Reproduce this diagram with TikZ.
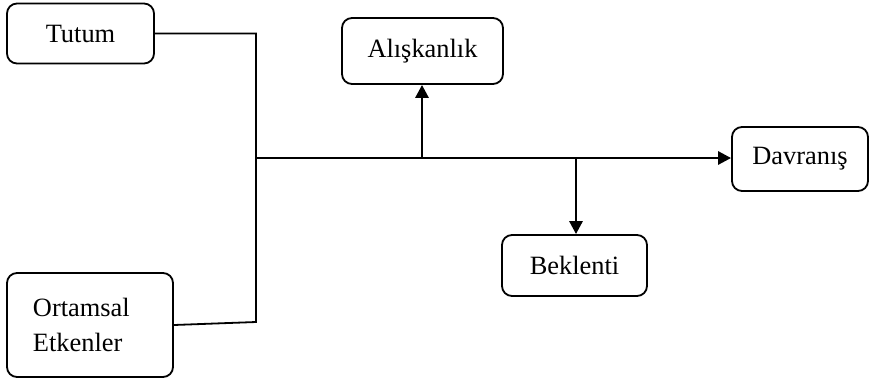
\documentclass[tikz,border=0pt]{standalone}
\usepackage{fontspec}
\setmainfont{Liberation Serif}
\usetikzlibrary{arrows.meta}
\begin{document}
\begin{tikzpicture}[x=1bp,y=-1bp,
  box/.style={draw, line width=1.8bp, rounded corners=10bp, inner sep=0pt,
    font=\fontsize{26.5}{35}\selectfont},
  link/.style={line width=1.8bp},
  flow/.style={line width=2.8bp, -{Triangle[length=13bp,width=13bp]}}]
\useasboundingbox (0,0) rectangle (870,385);

% boxes
\node[box, minimum width=147bp, minimum height=60bp] (tutum) at (80.5,33.5) {Tutum};
\node[box, minimum width=166bp, minimum height=104bp, align=left,
  text width=114bp] (ortam) at (90,325) {Ortamsal\\Etkenler};
\node[box, minimum width=161bp, minimum height=66bp] (alis) at (422.5,51) {Alışkanlık};
\node[box, minimum width=136bp, minimum height=64bp] (davr) at (800,159) {Davranış};
\node[box, minimum width=145bp, minimum height=61bp] (bekl) at (574.5,265.5) {Beklenti};

% junction points
\coordinate (top) at (256,33.5);
\coordinate (bot) at (256,322);
\coordinate (mid) at (256,158);
\coordinate (up) at (422,158);
\coordinate (down) at (576,158);

% inputs joined on the left
\draw[link] (tutum.east) -- (top) -- (bot) -- (ortam.east);

% main flow and branches
\draw[flow] (mid) -- (davr.west |- mid);
\draw[flow] (up) -- (up |- alis.south);
\draw[flow] (down) -- (down |- bekl.north);
\end{tikzpicture}
\end{document}
